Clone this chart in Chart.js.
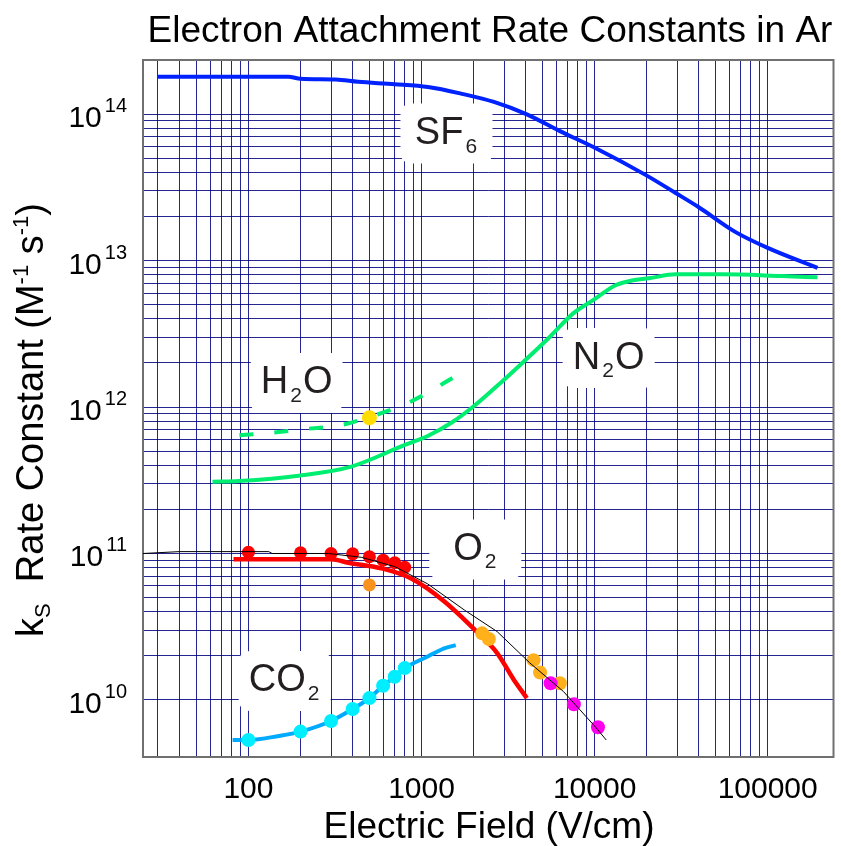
<!DOCTYPE html>
<html>
<head>
<meta charset="utf-8">
<script src="https://cdn.jsdelivr.net/npm/chart.js@4.4.1/dist/chart.umd.min.js"></script>
<style>
  html, body { margin: 0; padding: 0; background: #fff; }
</style>
</head>
<body>
<canvas id="chart" width="841" height="846"></canvas>
<script>
// ---- data (x: electric field V/cm, y: rate constant M^-1 s^-1) ----
const sf6X = [30, 170, 200, 320, 430, 700, 1090, 1690, 2620, 4060, 6300, 9840, 19800, 29400, 39800, 64900, 100000, 194000];
const sf6Y = [1.80e14, 1.80e14, 1.74e14, 1.72e14, 1.66e14, 1.60e14, 1.53e14, 1.38e14, 1.21e14, 9.95e13, 7.65e13, 5.96e13, 3.83e13, 2.89e13, 2.32e13, 1.57e13, 1.22e13, 8.9e12];

const n2oX = [62, 88, 195, 393, 801, 1086, 1510, 2010, 2985, 3890, 5525, 7520, 9800, 13300, 16400, 20560, 29360, 54400, 120200, 194000];
const n2oY = [3.09e11, 3.13e11, 3.40e11, 3.92e11, 5.51e11, 6.34e11, 7.90e11, 1.016e12, 1.53e12, 2.04e12, 3.02e12, 4.36e12, 5.37e12, 6.81e12, 7.30e12, 7.56e12, 8.05e12, 8.05e12, 7.84e12, 7.68e12];

const h2oX = [83, 131, 214, 344, 460, 811, 1057, 1510];
const h2oY = [6.39e11, 6.65e11, 7.08e11, 7.54e11, 8.28e11, 1.05e12, 1.23e12, 1.58e12];
const h2oPointX = [500];
const h2oPointY = [8.45e11];

const o2LineX = [82, 200, 302, 378, 584, 867, 1360, 2100, 2735, 3420, 4060];
const o2LineY = [9.13e10, 9.13e10, 9.13e10, 8.65e10, 7.93e10, 6.77e10, 4.69e10, 2.9e10, 2.09e10, 1.37e10, 1.03e10];
const o2RefX = [24.6, 40, 131, 137, 290, 449, 702, 1086, 1770, 2735, 4225, 6620, 10230, 11670];
const o2RefY = [1.0e11, 1.03e11, 1.03e11, 1.0e11, 1.0e11, 9.42e10, 8.13e10, 6.2e10, 4.11e10, 2.93e10, 1.79e10, 1.14e10, 6.44e9, 5.33e9];
const o2RedX = [100, 200, 300, 400, 500, 600, 700, 800];
const o2RedY = [1.02e11, 1.01e11, 1.0e11, 9.95e10, 9.5e10, 9.0e10, 8.65e10, 8.05e10];
const o2OrangeX = [500];
const o2OrangeY = [6.1e10];
const o2AmberX = [2240, 2450, 4440, 4840, 6300];
const o2AmberY = [2.85e10, 2.61e10, 1.87e10, 1.54e10, 1.30e10];
const o2MagentaX = [5570, 7590, 10460];
const o2MagentaY = [1.30e10, 9.34e9, 6.51e9];

const co2LineX = [81, 100, 150, 200, 300, 400, 500, 600, 700, 800, 1086, 1352, 1577];
const co2LineY = [5.33e9, 5.33e9, 5.68e9, 6.08e9, 7.19e9, 8.68e9, 1.03e10, 1.25e10, 1.44e10, 1.65e10, 1.98e10, 2.25e10, 2.37e10];
const co2PointX = [100, 200, 300, 400, 500, 600, 700, 800];
const co2PointY = [5.33e9, 6.08e9, 7.19e9, 8.68e9, 1.03e10, 1.25e10, 1.44e10, 1.65e10];

// axis ticks / grid
const xTickValues = [100, 1000, 10000, 100000];
const xTickLabels = ['100', '1000', '10000', '100000'];
const yTickExponents = [10, 11, 12, 13, 14];
const gridSteps = [1, 2, 3, 4, 5, 6, 7, 8, 9];
const xGridDecades = [10, 100, 1000, 10000, 100000];
const yGridDecades = [1e10, 1e11, 1e12, 1e13, 1e14];

// gas labels (anchored in data units)
const gasLabels = [
  { main: 'SF', sub: '6', tail: '', x: 1394, y: 7.36e13 },
  { main: 'N', sub: '2', tail: 'O', x: 12060, y: 2.16e12 },
  { main: 'H', sub: '2', tail: 'O', x: 190, y: 1.46e12 },
  { main: 'O', sub: '2', tail: '', x: 2045, y: 1.065e11 },
  { main: 'CO', sub: '2', tail: '', x: 162, y: 1.35e10 }
];

const xGrid = [];
xGridDecades.forEach(d => gridSteps.forEach(s => { const v = d * s; if (v >= 30 && v <= 100000) xGrid.push(v); }));
const yGrid = [];
yGridDecades.forEach(d => gridSteps.forEach(s => { const v = d * s; if (v <= 1e14) yGrid.push(v); }));

const pts = (xs, ys) => xs.map((x, i) => ({ x: x, y: ys[i] }));

const FONT = 'Arial, "Liberation Sans", sans-serif';
const GRID_COLOR = 'rgba(0, 0, 128, 0.85)';

function lineSet(label, xs, ys, color, width, extra) {
  return Object.assign({
    label: label,
    data: pts(xs, ys),
    showLine: true,
    borderColor: color,
    borderWidth: width,
    pointRadius: 0,
    fill: false,
    cubicInterpolationMode: 'monotone',
    borderCapStyle: 'butt'
  }, extra || {});
}

function pointSet(label, xs, ys, color, r) {
  return {
    label: label,
    data: pts(xs, ys),
    showLine: false,
    backgroundColor: color,
    borderWidth: 0,
    pointRadius: r,
    pointHoverRadius: r
  };
}

function drawParts(ctx, parts, x, y, align) {
  // parts: [text, size, dy, gapAfter]
  let total = 0;
  const widths = parts.map(p => {
    ctx.font = p[1] + 'px ' + FONT;
    const w = ctx.measureText(p[0]).width + (p[3] || 0);
    total += w;
    return w;
  });
  let cx = align === 'center' ? x - total / 2 : (align === 'right' ? x - total : x);
  ctx.textAlign = 'left';
  ctx.textBaseline = 'alphabetic';
  parts.forEach((p, i) => {
    ctx.font = p[1] + 'px ' + FONT;
    ctx.fillText(p[0], cx, y + (p[2] || 0));
    cx += widths[i];
  });
}

function roundRect(ctx, x, y, w, h, r) {
  ctx.beginPath();
  ctx.moveTo(x + r, y);
  ctx.lineTo(x + w - r, y);
  ctx.quadraticCurveTo(x + w, y, x + w, y + r);
  ctx.lineTo(x + w, y + h - r);
  ctx.quadraticCurveTo(x + w, y + h, x + w - r, y + h);
  ctx.lineTo(x + r, y + h);
  ctx.quadraticCurveTo(x, y + h, x, y + h - r);
  ctx.lineTo(x, y + r);
  ctx.quadraticCurveTo(x, y, x + r, y);
  ctx.closePath();
}

const decorations = {
  id: 'decorations',
  beforeDatasetsDraw(chart) {
    const { ctx, chartArea: a, scales: { x, y } } = chart;
    ctx.save();
    // white boxes behind the gas names
    gasLabels.forEach(l => {
      const cx = x.getPixelForValue(l.x);
      const cy = y.getPixelForValue(l.y);
      ctx.fillStyle = '#fff';
      roundRect(ctx, cx - 46, cy - 30, 92, 60, 12);
      ctx.fill();
      ctx.fillStyle = '#231f20';
      drawParts(ctx, [[l.main, 38, 0, 2], [l.sub, 21, 8.5, 1], [l.tail, 38, 0]], cx, cy + 10.5, 'center');
    });
    // frame
    ctx.strokeStyle = '#707070';
    ctx.lineWidth = 2;
    ctx.strokeRect(a.left, a.top, a.right - a.left, a.bottom - a.top);
    ctx.restore();
  },
  afterDraw(chart) {
    const { ctx, chartArea: a, scales: { x, y } } = chart;
    ctx.save();
    ctx.fillStyle = '#000';
    // title
    ctx.font = '37px ' + FONT;
    ctx.textAlign = 'center';
    ctx.textBaseline = 'alphabetic';
    ctx.fillText('Electron Attachment Rate Constants in Ar', 490, 42);
    // x tick labels
    ctx.font = '30px ' + FONT;
    xTickValues.forEach((v, i) => {
      ctx.textAlign = 'center';
      ctx.fillText(xTickLabels[i], x.getPixelForValue(v), a.bottom + 41);
    });
    // y tick labels 10^n
    yTickExponents.forEach(e => {
      const py = y.getPixelForValue(Math.pow(10, e));
      drawParts(ctx, [['10', 30, 0, 3], [String(e), 20, -15]], a.left - 16, py + 13, 'right');
    });
    // x axis title
    ctx.font = '37px ' + FONT;
    ctx.textAlign = 'center';
    ctx.fillText('Electric Field (V/cm)', 489, 838);
    // y axis title (rotated)
    ctx.translate(43, 420);
    ctx.rotate(-Math.PI / 2);
    drawParts(ctx, [['k', 38, 0], ['S', 22, 7], ['  Rate Constant (M', 38, 0], ['-1', 22, -15], [' s', 38, 0], ['-1', 22, -15], [')', 38, 0]], 0, 0, 'center');
    ctx.restore();
  }
};

new Chart(document.getElementById('chart'), {
  type: 'scatter',
  data: {
    datasets: [
      lineSet('O2 reference', o2RefX, o2RefY, '#000000', 1, { cubicInterpolationMode: 'default', tension: 0 }),
      pointSet('O2 magenta', o2MagentaX, o2MagentaY, '#ff00ee', 7),
      pointSet('O2 amber', o2AmberX, o2AmberY, '#ffb01a', 7),
      pointSet('O2 orange', o2OrangeX, o2OrangeY, '#f7931e', 6.5),
      pointSet('H2O point', h2oPointX, h2oPointY, '#ffdd00', 7.5),
      pointSet('O2 red', o2RedX, o2RedY, '#ff0000', 6.5),
      pointSet('CO2 points', co2PointX, co2PointY, '#00eeff', 7),
      lineSet('O2', o2LineX, o2LineY, '#ff0000', 4.5),
      lineSet('CO2', co2LineX, co2LineY, '#00aaff', 4),
      lineSet('H2O', h2oX, h2oY, '#00ee70', 4, { borderDash: [14, 21], borderDashOffset: 30 }),
      lineSet('N2O', n2oX, n2oY, '#00ee70', 4),
      lineSet('SF6', sf6X, sf6Y, '#0022ff', 4)
    ]
  },
  options: {
    responsive: false,
    animation: false,
    events: [],
    layout: { padding: { left: 143, right: 2, top: 60, bottom: 89 } },
    plugins: { legend: { display: false }, tooltip: { enabled: false } },
    scales: {
      x: {
        type: 'logarithmic',
        min: 24.6,
        max: 2.4e5,
        bounds: 'data',
        afterBuildTicks: axis => { axis.ticks = xGrid.map(v => ({ value: v })); },
        ticks: { display: false },
        grid: { color: GRID_COLOR, lineWidth: 1, drawTicks: false },
        border: { display: false }
      },
      y: {
        type: 'logarithmic',
        min: 4.08e9,
        max: 2.34e14,
        bounds: 'data',
        afterBuildTicks: axis => { axis.ticks = yGrid.map(v => ({ value: v })); },
        ticks: { display: false },
        grid: { color: GRID_COLOR, lineWidth: 1, drawTicks: false },
        border: { display: false }
      }
    }
  },
  plugins: [decorations]
});
</script>
</body>
</html>
